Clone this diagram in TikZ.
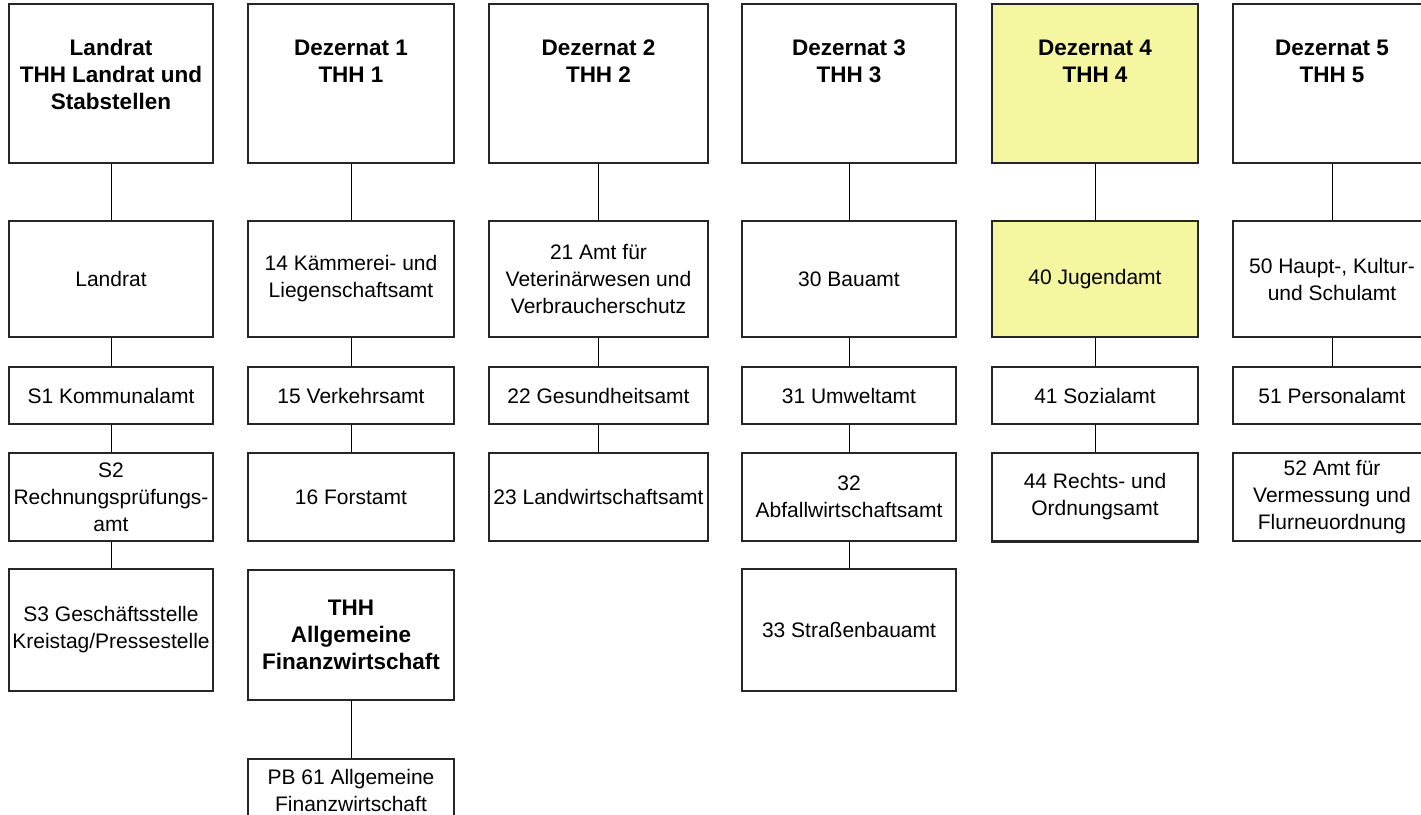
\documentclass[tikz,border=0pt]{standalone}
\usepackage{fontspec}
\setmainfont{Liberation Sans}
\definecolor{gelb}{RGB}{244,246,160}
\tikzset{
  amt/.style={draw=black!85, line width=1.3pt, fill=white, inner sep=0pt, align=center, font=\fontsize{21}{27}\selectfont},
  kopf/.style={amt, font=\fontsize{22.5}{27}\selectfont\bfseries},
  verb/.style={line width=1pt, black},
}
\begin{document}
\begin{tikzpicture}[x=1pt, y=-1pt]
  \clip (0,0) rectangle (1421,814);
  % Kopfzeile: Landrat und Dezernate
  \foreach \n/\x/\w/\f/\h/\d/\t in {1/111/204/white/105/54/{Landrat\\THH Landrat und\\Stabstellen},
      2/351/206/white/78/81/{Dezernat 1\\THH 1}, 3/598.5/219/white/78/81/{Dezernat 2\\THH 2},
      4/849/214/white/78/81/{Dezernat 3\\THH 3}, 5/1095/206/gelb/78/81/{Dezernat 4\\THH 4},
      6/1332/198/white/78/81/{Dezernat 5\\THH 5}}
    \node[kopf, fill=\f, minimum width=\w pt, text height=\h pt, text depth=\d pt] (k\n) at (\x,83.5) {\t};
  % Spalte Landrat
  \node[amt, minimum width=204pt, minimum height=116pt] (l1) at (111,279) {Landrat};
  \node[amt, minimum width=204pt, minimum height=57pt] (s1) at (111,395.5) {S1 Kommunalamt};
  \node[amt, minimum width=204pt, minimum height=88pt] (s2) at (111,497) {S2\\Rechnungsprüfungs-\\amt};
  \node[amt, minimum width=204pt, minimum height=122pt] (s3) at (111,630) {S3 Geschäftsstelle\\Kreistag/Pressestelle};
  % Dezernat 1
  \node[amt, minimum width=206pt, minimum height=116pt] (a14) at (351,279) {14 Kämmerei- und\\Liegenschaftsamt};
  \node[amt, minimum width=206pt, minimum height=57pt] (a15) at (351,395.5) {15 Verkehrsamt};
  \node[amt, minimum width=206pt, minimum height=88pt] (a16) at (351,497) {16 Forstamt};
  \node[kopf, minimum width=206pt, minimum height=130pt] (thh) at (351,635) {THH\\Allgemeine\\Finanzwirtschaft};
  \node[amt, minimum width=206pt, minimum height=62pt] (pb61) at (351,790) {PB 61 Allgemeine\\Finanzwirtschaft};
  % Dezernat 2
  \node[amt, minimum width=219pt, minimum height=116pt] (a21) at (598.5,279) {21 Amt für\\Veterinärwesen und\\Verbraucherschutz};
  \node[amt, minimum width=219pt, minimum height=57pt] (a22) at (598.5,395.5) {22 Gesundheitsamt};
  \node[amt, minimum width=219pt, minimum height=88pt] (a23) at (598.5,497) {23 Landwirtschaftsamt};
  % Dezernat 3
  \node[amt, minimum width=214pt, minimum height=116pt] (a30) at (849,279) {30 Bauamt};
  \node[amt, minimum width=214pt, minimum height=57pt] (a31) at (849,395.5) {31 Umweltamt};
  \node[amt, minimum width=214pt, minimum height=88pt] (a32) at (849,497) {32\\Abfallwirtschaftsamt};
  \node[amt, minimum width=214pt, minimum height=122pt] (a33) at (849,630) {33 Straßenbauamt};
  % Dezernat 4
  \node[amt, fill=gelb, minimum width=206pt, minimum height=116pt] (a40) at (1095,279) {40 Jugendamt};
  \node[amt, minimum width=206pt, minimum height=57pt] (a41) at (1095,395.5) {41 Sozialamt};
  \node[amt, minimum width=206pt, minimum height=88pt] (a44) at (1095,497) {44 Rechts- und\\Ordnungsamt};
  \draw[line width=2.6pt, black!85] (a44.south west) -- (a44.south east);
  % Dezernat 5
  \node[amt, minimum width=198pt, minimum height=116pt] (a50) at (1332,279) {50 Haupt-, Kultur-\\und Schulamt};
  \node[amt, minimum width=198pt, minimum height=57pt] (a51) at (1332,395.5) {51 Personalamt};
  \node[amt, minimum width=198pt, minimum height=88pt] (a52) at (1332,497) {52 Amt für\\Vermessung und\\Flurneuordnung};
  % Verbindungen
  \foreach \a/\b in {k1/l1, l1/s1, s1/s2, s2/s3, k2/a14, a14/a15, a15/a16, thh/pb61,
      k3/a21, a21/a22, a22/a23, k4/a30, a30/a31, a31/a32, a32/a33,
      k5/a40, a40/a41, a41/a44, k6/a50, a50/a51}
    \draw[verb] (\a) -- (\b);
\end{tikzpicture}
\end{document}
